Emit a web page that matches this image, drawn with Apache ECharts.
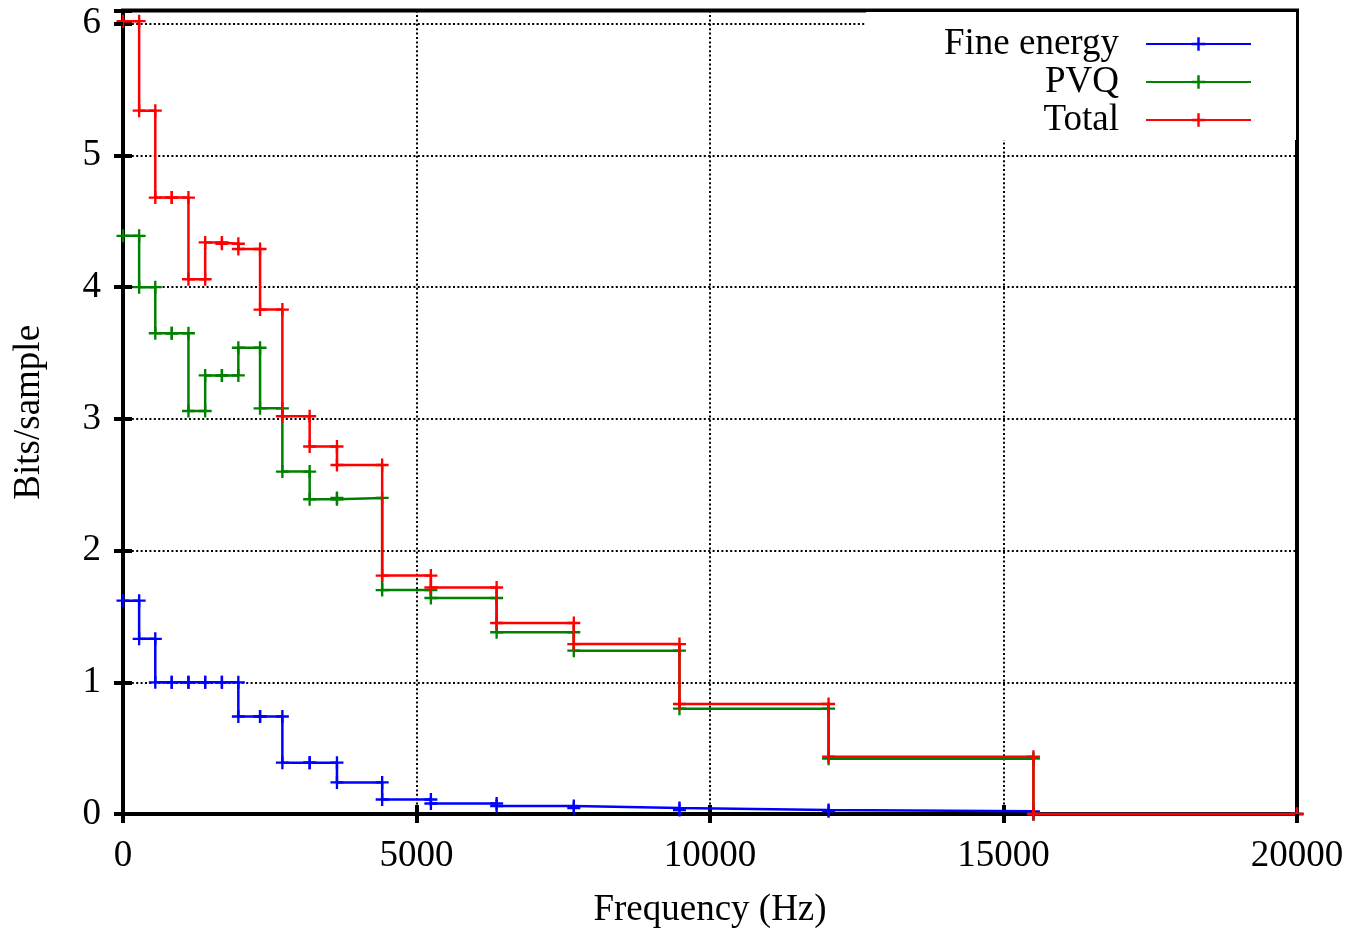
<!DOCTYPE html>
<html><head><meta charset="utf-8">
<script src="https://cdn.jsdelivr.net/npm/echarts@6/dist/echarts.min.js"></script>
<style>html,body{margin:0;padding:0;background:#fff}#c{width:1354px;height:928px}</style>
</head><body><div id="c"></div>
<script>
// Band edges (Hz) and per-band bits/sample
const bandEdges = [0, 275, 550, 830, 1115, 1400, 1685, 1965, 2335, 2715, 3180, 3645, 4415, 5245, 6365, 7680, 9480, 12020, 15510, 20000];
const fineEnergy = [1.62, 1.33, 1.00, 1.00, 1.00, 1.00, 1.00, 0.74, 0.74, 0.39, 0.39, 0.24, 0.11, 0.08, 0.06, 0.045, 0.03, 0.02, 0];
const pvq        = [4.39, 4.00, 3.65, 3.65, 3.06, 3.33, 3.33, 3.54, 3.08, 2.60, 2.39, 2.40, 1.70, 1.64, 1.38, 1.24, 0.80, 0.42, 0];
const total      = [6.02, 5.34, 4.68, 4.68, 4.06, 4.34, 4.33, 4.29, 3.83, 3.02, 2.79, 2.65, 1.81, 1.72, 1.45, 1.29, 0.835, 0.435, 0];
const seriesNames = ['Fine energy', 'PVQ', 'Total'];
const seriesColors = ['#0000ff', '#008000', '#ff0000'];
const xLabelTitle = 'Frequency (Hz)';
const yLabelTitle = 'Bits/sample';

const FONT = "'Liberation Serif', 'Times New Roman', serif";
const CROSS = 'path://M-0.18,-1L0.18,-1L0.18,1L-0.18,1Z M-1,-0.18L1,-0.18L1,0.18L-1,0.18Z';

function steps(vals) {
  const d = [];
  for (let i = 0; i < vals.length; i++) {
    d.push([bandEdges[i], vals[i]]);
    d.push([bandEdges[i + 1], vals[i]]);
  }
  return d;
}

const allVals = [fineEnergy, pvq, total];
const tickStyle = { show: true, inside: true, length: 9, lineStyle: { color: '#000', width: 4 } };
const gridLine = { show: true, lineStyle: { color: '#000', width: 2, type: [2, 2.4] } };

const chart = echarts.init(document.getElementById('c'), null, { renderer: 'canvas' });
chart.setOption({
  animation: false,
  backgroundColor: '#fff',
  grid: { left: 123, right: 57, top: 10.6, bottom: 114, show: true, borderColor: '#000', borderWidth: 4, backgroundColor: 'transparent', outerBoundsMode: 'none' },
  legend: {
    show: true, orient: 'vertical', align: 'right', right: 58, top: 12,
    padding: [13, 44, 1, 78], backgroundColor: '#fff',
    itemWidth: 105, itemHeight: 17, itemGap: 0, selectedMode: false,
    textStyle: { fontFamily: FONT, fontSize: 37, color: '#000', lineHeight: 38, padding: [0, 22, 0, 0] },
    data: seriesNames
  },
  xAxis: [{
    type: 'value', min: 0, max: 20000, interval: 5000, position: 'bottom',
    axisLine: { show: false }, axisTick: tickStyle,
    axisLabel: { color: '#000', fontFamily: FONT, fontSize: 37, margin: 24, formatter: v => String(v) },
    splitLine: gridLine,
    name: xLabelTitle, nameLocation: 'middle', nameGap: 78,
    nameTextStyle: { color: '#000', fontFamily: FONT, fontSize: 37 }
  }, {
    type: 'value', min: 0, max: 20000, interval: 5000, position: 'top', z: 10,
    axisLine: { show: false }, axisTick: tickStyle, axisLabel: { show: false }, splitLine: { show: false }
  }],
  yAxis: [{
    type: 'value', min: 0, max: 6.1, interval: 1, position: 'left',
    axisLine: { show: false }, axisTick: tickStyle,
    axisLabel: { color: '#000', fontFamily: FONT, fontSize: 37, margin: 22,
      formatter: v => (Math.abs(v - Math.round(v)) < 1e-6 ? String(Math.round(v)) : '') },
    splitLine: gridLine,
    name: yLabelTitle, nameLocation: 'middle', nameGap: 75,
    nameTextStyle: { color: '#000', fontFamily: FONT, fontSize: 37 }
  }, {
    type: 'value', min: 0, max: 6.1, interval: 1, position: 'right', z: 10,
    axisLine: { show: false }, axisTick: tickStyle, axisLabel: { show: false }, splitLine: { show: false }
  }],
  series: seriesNames.map((n, i) => ({
    type: 'line', name: n, data: steps(allVals[i]), xAxisIndex: 0, yAxisIndex: 0,
    symbol: CROSS, symbolSize: 13, clip: false,
    lineStyle: { color: seriesColors[i], width: 2.5 },
    itemStyle: { color: seriesColors[i], borderWidth: 0 },
    emphasis: { disabled: true }, z: 2 + i
  }))
});
</script></body></html>
